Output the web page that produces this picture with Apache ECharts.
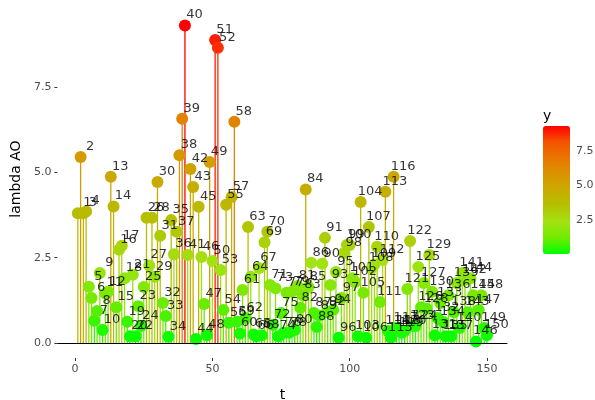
<!DOCTYPE html>
<html><head><meta charset="utf-8">
<script src="https://cdn.jsdelivr.net/npm/echarts@6/dist/echarts.min.js"></script>
<style>html,body{margin:0;padding:0;background:#fff}#c{width:595px;height:400px}</style>
</head><body><div id="c"></div>
<script>
const tValues = Array.from({length:150},(_,i)=>i+1);
const yValues = [
3.8,5.45,3.8,3.85,1.65,1.32,0.65,0.94,2.05,0.38,
1.45,1.5,4.87,4.0,1.05,2.73,2.85,1.9,0.62,0.2,
2.0,0.2,1.08,0.5,1.64,3.67,2.27,3.67,1.94,4.72,
3.14,1.17,0.79,0.18,3.6,2.6,3.26,5.5,6.57,9.3,
2.58,5.1,4.57,0.12,3.99,2.52,1.14,0.23,5.3,2.4,
8.88,8.65,2.14,0.97,4.05,0.59,4.28,6.48,0.62,0.28,
1.55,0.73,3.4,1.94,0.25,0.2,2.2,0.23,2.95,3.26,
1.7,0.53,1.6,0.2,0.88,0.3,1.47,0.3,1.5,0.38,
1.67,1.03,1.4,4.5,1.64,2.35,0.88,0.47,0.8,2.32,
3.08,0.9,1.7,0.97,2.08,0.15,1.32,2.64,2.87,2.87,
1.9,1.79,0.2,4.13,1.47,0.15,3.4,2.2,2.3,2.82,
1.2,2.43,4.43,0.35,0.15,4.87,0.45,0.35,0.3,0.35,
1.58,2.99,0.5,0.5,2.23,1.05,1.76,1.0,2.58,1.5,
0.23,0.73,1.17,0.62,0.2,1.4,0.2,0.9,1.76,0.44,
2.05,1.85,0.9,1.9,1.4,0.04,0.97,1.4,0.44,0.23];
const xTicks = [0,50,100,150];
const yTicks = [0,2.5,5,7.5];
const legendTicks = [2.5,5,7.5];
const gradient = ['#00FF00','#70EB00','#A3E213','#B3C200','#C9AB00','#DA9300','#E87700','#F45300','#FF0000'];

const pts = tValues.map((t,i)=>[t,yValues[i]]);
const yMin = Math.min(...yValues), yMax = Math.max(...yValues);
const FONT = 'DejaVu Sans, Verdana, sans-serif';

const chart = echarts.init(document.getElementById('c'));
chart.setOption({
  animation:false,
  backgroundColor:'#fff',
  grid:[
    {left:57.4, right:87.6, top:0, bottom:42, outerBoundsMode:'none', containLabel:false},
    {left:543, top:126, width:27, height:128, outerBoundsMode:'none', containLabel:false}
  ],
  xAxis:[
    {type:'value', gridIndex:0, min:-6.45, max:157.45,
     axisLine:{show:false, onZero:false}, splitLine:{show:false},
     axisTick:{show:true, length:3, customValues:xTicks, lineStyle:{color:'#333'}},
     axisLabel:{customValues:xTicks, color:'#4d4d4d', fontSize:11, fontFamily:FONT, margin:6},
     name:'t', nameLocation:'middle', nameGap:30, nameTextStyle:{fontSize:14, color:'#000', fontFamily:FONT}},
    {type:'value', gridIndex:1, show:false, min:0, max:1}
  ],
  yAxis:[
    {type:'value', gridIndex:0, min:-0.44, max:10.05,
     axisLine:{show:false, onZero:false}, splitLine:{show:false},
     axisTick:{show:true, length:3, customValues:yTicks, lineStyle:{color:'#333'}},
     axisLabel:{customValues:yTicks, formatter:v=>v.toFixed(1), color:'#4d4d4d', fontSize:11, fontFamily:FONT, margin:6},
     name:'lambda AO', nameLocation:'middle', nameGap:33, nameTextStyle:{fontSize:14, color:'#000', fontFamily:FONT}},
    {type:'value', gridIndex:1, position:'right', min:yMin, max:yMax,
     axisLine:{show:false, onZero:false}, splitLine:{show:false},
     axisTick:{show:true, inside:true, length:5, customValues:legendTicks, lineStyle:{color:'#fff', width:1}},
     axisLabel:{customValues:legendTicks, formatter:v=>v.toFixed(1), color:'#4d4d4d', fontSize:11, fontFamily:FONT, margin:6}},
    {type:'value', gridIndex:1, position:'left', min:yMin, max:yMax,
     axisLine:{show:false, onZero:false}, splitLine:{show:false},
     axisTick:{show:true, inside:true, length:5, customValues:legendTicks, lineStyle:{color:'#fff', width:1}},
     axisLabel:{show:false}}
  ],
  visualMap:{type:'continuous', min:yMin, max:yMax, dimension:1, seriesIndex:[0,1],
    left:543, top:126, itemWidth:27, itemHeight:128, padding:0,
    calculable:false, text:null, showLabel:false, realtime:false,
    inRange:{color:gradient}},
  graphic:[{type:'text', left:543, top:109, style:{text:'y', fontSize:14, fill:'#000', fontFamily:FONT}}],
  series:[
    {type:'bar', xAxisIndex:0, yAxisIndex:0, data:pts, barWidth:1.3, z:2,
     markLine:{silent:true, symbol:'none', label:{show:false}, lineStyle:{color:'#000', width:1.2, type:'solid'},
       data:[{yAxis:0}]}},
    {type:'scatter', xAxisIndex:0, yAxisIndex:0, data:pts, symbolSize:12, z:3, itemStyle:{opacity:1}},
    {type:'scatter', xAxisIndex:0, yAxisIndex:0, data:pts, symbolSize:1, z:5,
     itemStyle:{color:'rgba(0,0,0,0)'},
     label:{show:true, position:'inside', offset:[9.5,-10.5], formatter:p=>String(p.value[0]),
       color:'#000', fontSize:13, fontFamily:FONT}}
  ]
});
</script></body></html>
